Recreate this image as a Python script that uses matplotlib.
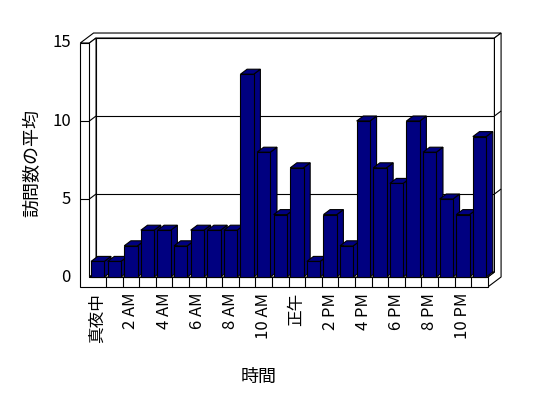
import matplotlib
matplotlib.use("Agg")
import matplotlib.pyplot as plt
from matplotlib.patches import Polygon

plt.rcParams["font.family"] = ["Noto Sans CJK JP", "DejaVu Sans"]

# 時間帯ごとの訪問数の平均 (0時〜23時)
visits = [1, 1, 2, 3, 3, 2, 3, 3, 3, 13, 8, 4,
          7, 1, 4, 2, 10, 7, 6, 10, 8, 5, 4, 9]
tick_labels = ["真夜中", "2 AM", "4 AM", "6 AM", "8 AM", "10 AM",
               "正午", "2 PM", "4 PM", "6 PM", "8 PM", "10 PM"]
y_ticks = [0, 5, 10, 15]
y_title = "訪問数の平均"
x_title = "時間"

BAR = "#000080"
DX, DY = 0.40, 0.32   # un paso de profundidad, en unidades de datos
WALL = 0.55           # grosor de la pared izquierda (categorías)
FLOOR = 0.64          # grosor del suelo (valores)
GAP = 0.10
LW = 0.8
n = len(visits)
ymax = y_ticks[-1]

fig = plt.figure(figsize=(5.48, 3.98), dpi=100)
ax = fig.add_axes([0, 0, 1, 1])
ax.set_xlim(-89.4 / 16.6, (548 - 89.4) / 16.6)
ax.set_ylim((277 - 398) / 15.6, 277 / 15.6)
ax.axis("off")


def poly(pts, fc="white", z=1):
    ax.add_patch(Polygon(pts, closed=True, facecolor=fc, edgecolor="black",
                         lw=LW, zorder=z, joinstyle="miter"))


def line(xs, ys, z=2):
    ax.plot(xs, ys, color="black", lw=LW, zorder=z, solid_capstyle="butt")


# caja 3D: pared del fondo, pared izquierda, suelo
poly([(DX, DY), (n + DX, DY), (n + DX, ymax + DY), (DX, ymax + DY)])
poly([(-WALL, ymax), (0, ymax), (DX, ymax + DY), (n + DX, ymax + DY),
      (n + 2 * DX, ymax + 2 * DY), (-WALL + 2 * DX, ymax + 2 * DY)])
poly([(0, 0), (0, ymax), (DX, ymax + DY), (DX, DY)])
poly([(n, -FLOOR), (n, 0), (n + DX, DY), (n + DX, ymax + DY),
      (n + 2 * DX, ymax + 2 * DY), (n + 2 * DX, -FLOOR + 2 * DY)])
poly([(-WALL, -FLOOR), (n, -FLOOR), (n, 0), (0, 0), (0, ymax), (-WALL, ymax)])
poly([(0, 0), (n, 0), (n + DX, DY), (DX, DY)])

# líneas de división
for v in y_ticks[1:-1]:
    line([DX, n + DX], [v + DY, v + DY])
    line([0, DX], [v, v + DY])
    line([-WALL, 0], [v, v])
    line([n + DX, n + 2 * DX], [v + DY, v + 2 * DY])
for k in range(1, n):
    line([k, k], [-FLOOR, 0])

# columnas 3D, de izquierda a derecha
for i, v in enumerate(visits):
    x0, x1 = i + GAP, i + 1 - GAP
    z = 10 + i
    poly([(x1, 0), (x1 + DX, DY), (x1 + DX, v + DY), (x1, v)], BAR, z)
    poly([(x0, v), (x1, v), (x1 + DX, v + DY), (x0 + DX, v + DY)], BAR, z)
    poly([(x0, 0), (x1, 0), (x1, v), (x0, v)], BAR, z)

# textos
for v in y_ticks:
    ax.text(-1.12, v, str(v), ha="right", va="center", fontsize=12)
for j, lab in enumerate(tick_labels):
    ax.text(2 * j + 0.5, -FLOOR - 0.38, lab, rotation=90,
            ha="center", va="top", fontsize=12)
ax.text(-3.46, 7.3, y_title, rotation=90, ha="center", va="center", fontsize=13)
ax.text(10.2, -6.4, x_title, ha="center", va="center", fontsize=13)

fig.savefig("out.png", dpi=100)
